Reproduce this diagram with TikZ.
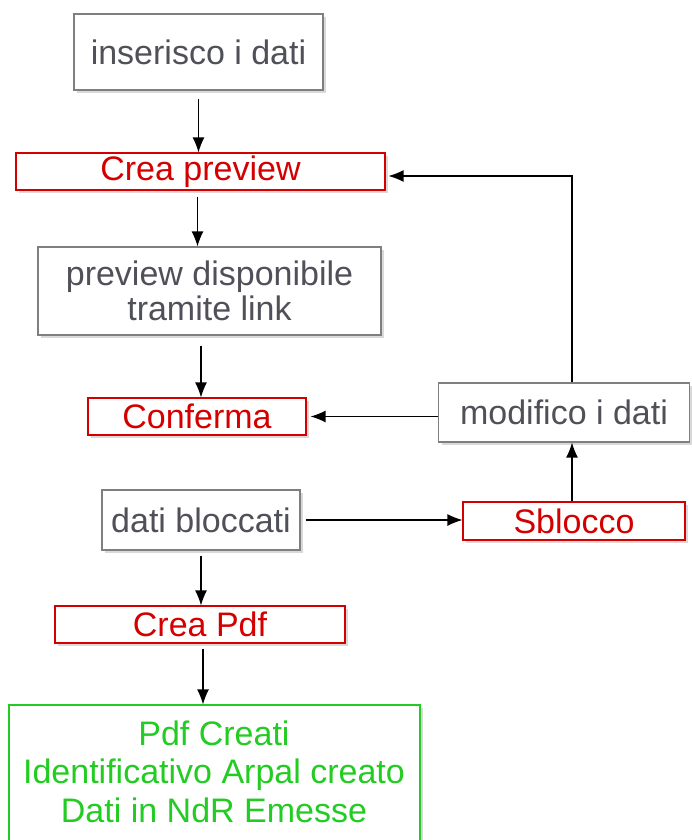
\documentclass[tikz,border=0pt]{standalone}
\usepackage{fontspec}
\setmainfont{Liberation Sans}
\usetikzlibrary{arrows.meta,shadows}
\definecolor{txtgray}{HTML}{505058}
\definecolor{boxgray}{HTML}{7F7F7F}
\definecolor{myred}{HTML}{D40000}
\definecolor{mygreen}{HTML}{22CC22}
\tikzset{
  base/.style={draw, line width=1.1pt, fill=white, inner sep=0pt,
    font=\fontsize{34}{36}\selectfont, align=center,
    drop shadow={shadow xshift=3pt, shadow yshift=-3pt, opacity=0.3, fill=gray}},
  gbox/.style={base, draw=boxgray, text=txtgray},
  rbox/.style={base, draw=myred, text=myred},
  grbox/.style={base, draw=mygreen, text=mygreen},
  arr/.style={-{Latex[length=15pt,width=12pt]}, line width=1.2pt, black},
}
\begin{document}
\begin{tikzpicture}[x=1pt,y=-1pt]
\useasboundingbox (0,0) rectangle (691,840);
\node[gbox, minimum width=249pt, minimum height=76pt] (ins) at (198.5,52) {inserisco i dati};
\node[rbox, minimum width=369pt, minimum height=37pt] (cp) at (200.5,171.5) {Crea preview};
\node[gbox, minimum width=343pt, minimum height=88pt] (prev) at (209.5,291) {preview disponibile\\[-1pt]tramite link};
\node[rbox, minimum width=218pt, minimum height=37pt] (conf) at (197,416.5) {Conferma};
\node[gbox, minimum width=251pt, minimum height=59pt] (mod) at (564,412.5) {modifico i dati};
\node[gbox, minimum width=198pt, minimum height=60pt] (db) at (201,520) {dati bloccati};
\node[rbox, minimum width=222pt, minimum height=38pt] (sb) at (574,521) {Sblocco};
\node[rbox, minimum width=290pt, minimum height=37pt] (pdf) at (200,624.5) {Crea Pdf};
\node[grbox, minimum width=411pt, minimum height=150pt] (res) at (214.5,780) {};
\node[text=mygreen, font=\fontsize{34}{38.5}\selectfont, align=center, inner sep=0pt] (restext) at (214,771.5) {Pdf Creati\\Identificativo Arpal creato\\Dati in NdR Emesse};
\draw[arr] ([yshift=-8pt]ins.south) -- (ins.south |- cp.north);
\draw[arr] ([xshift=-3pt,yshift=-6pt]cp.south) -- ([xshift=-3pt]cp.south |- prev.north);
\draw[arr] ([xshift=-8.5pt,yshift=-10pt]prev.south) -- ([xshift=-8.5pt]prev.south |- conf.north);
\draw[arr] (mod.west |- conf.east) -- ([xshift=4pt]conf.east);
\draw[arr] ([xshift=8pt]mod.north) |- ([xshift=3pt,yshift=-4.5pt]cp.east);
\draw[arr] ([xshift=5pt]db.east) -- (db.east -| sb.west);
\draw[arr] ([xshift=-2pt]sb.north) -- ([xshift=-2pt]sb.north |- mod.south);
\draw[arr] ([yshift=-5pt]db.south) -- (db.south |- pdf.north);
\draw[arr] ([xshift=3pt,yshift=-5pt]pdf.south) -- ([xshift=3pt]pdf.south |- res.north);
\end{tikzpicture}
\end{document}
